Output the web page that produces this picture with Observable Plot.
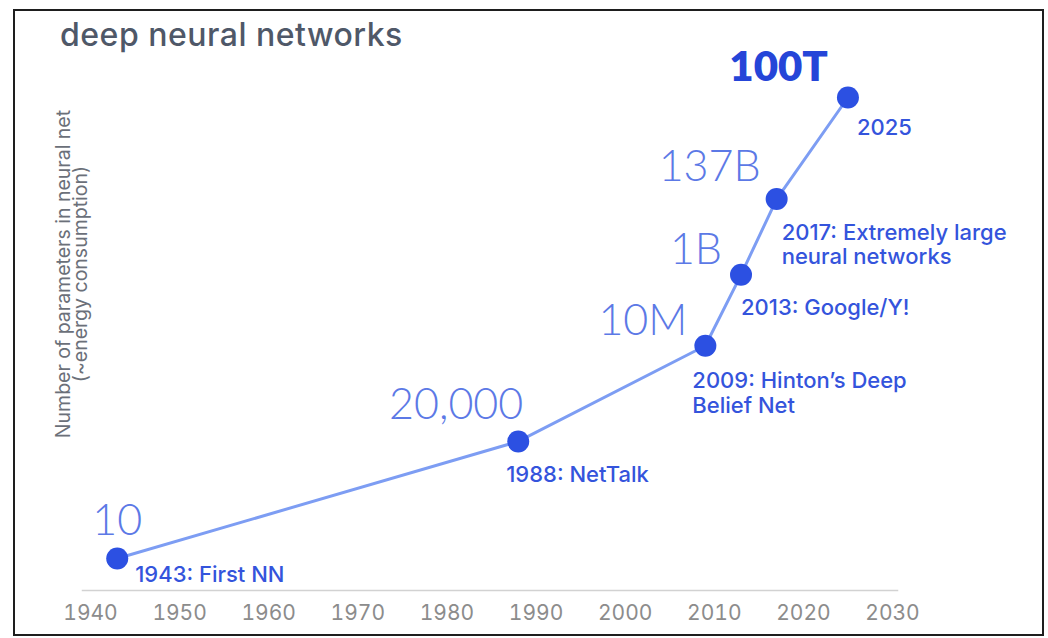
<!DOCTYPE html>
<html>
<head>
<meta charset="utf-8">
<script src="https://cdn.jsdelivr.net/npm/d3@7"></script>
<script src="https://cdn.jsdelivr.net/npm/@observablehq/plot@0.6"></script>
<style>
  html, body { margin: 0; padding: 0; background: #fff; }
  #wrap { position: relative; width: 1048px; height: 638px; overflow: hidden; }
  #border { position: absolute; left: 13px; top: 9px; width: 1027px; height: 623px; border: 2px solid #1e1e1e; pointer-events: none; }
  #title { position: absolute; left: 60px; top: 15px; font-family: Inter, sans-serif; font-size: 32px; font-weight: 500; letter-spacing: 0.5px; color: #4f5868; line-height: 40px; white-space: nowrap; }
  #ylab { position: absolute; left: 72px; top: 274px; transform: translate(-50%, -50%) rotate(-90deg); font-family: Inter, sans-serif; font-size: 19.5px; color: #6b7079; text-align: center; line-height: 17px; white-space: nowrap; }
  #chart { position: absolute; left: 0; top: 0; }
</style>
</head>
<body>
<div id="wrap">
  <div id="chart"></div>
  <div id="title">deep neural networks</div>
  <div id="ylab">Number of parameters in neural net<br>(~energy consumption)</div>
  <div id="border"></div>
</div>
<script>
// ---- data ----
const years = [1943, 1988, 2009, 2013, 2017, 2025];
const params = [10, 20000, 1e7, 1e9, 1.37e11, 1e14];
const valueLabels = ["10", "20,000", "10M", "1B", "137B", "100T"];
const events = [
  "1943: First NN",
  "1988: NetTalk",
  "2009: Hinton’s Deep\nBelief Net",
  "2013: Google/Y!",
  "2017: Extremely large\nneural networks",
  "2025"
];
const tickYears = [1940, 1950, 1960, 1970, 1980, 1990, 2000, 2010, 2020, 2030];

const data = years.map((y, i) => ({year: y, value: params[i], label: valueLabels[i], event: events[i]}));

// ---- label placement (styling) ----
const valuePlace = [
  {anchor: "middle", dx: 0, dy: -37, bold: false},
  {anchor: "end", dx: 5, dy: -36, bold: false},
  {anchor: "end", dx: -18, dy: -24, bold: false},
  {anchor: "end", dx: -19, dy: -25, bold: false},
  {anchor: "end", dx: -16, dy: -32, bold: false},
  {anchor: "end", dx: -20, dy: -30, bold: true}
];
const eventPlace = [
  {dx: 18, dy: 6, lh: 1.1},
  {dx: -12, dy: 23, lh: 1.1},
  {dx: -13, dy: 25, lh: 1.12},
  {dx: 0, dy: 23, lh: 1.1},
  {dx: 5, dy: 24, lh: 1.08},
  {dx: 9, dy: 20, lh: 1.1}
];

const valueMarks = data.map((d, i) => Plot.text([d], {
  x: "year", y: "value", text: "label",
  textAnchor: valuePlace[i].anchor, lineAnchor: "middle",
  dx: valuePlace[i].dx, dy: valuePlace[i].dy,
  fontSize: valuePlace[i].bold ? 42 : 43,
  fontFamily: "Lato, sans-serif",
  fontWeight: valuePlace[i].bold ? 800 : 300,
  fill: valuePlace[i].bold ? "#2545d8" : "#5c79e6"
}));

const eventMarks = data.map((d, i) => Plot.text([d], {
  x: "year", y: "value", text: "event",
  textAnchor: "start", lineAnchor: "top",
  dx: eventPlace[i].dx, dy: eventPlace[i].dy,
  lineHeight: eventPlace[i].lh,
  fontSize: 22,
  fontFamily: "Inter, sans-serif",
  fontWeight: 500,
  fill: "#3454dc"
}));

const chart = Plot.plot({
  width: 1048,
  height: 638,
  marginLeft: 82,
  marginRight: 151,
  marginTop: 20,
  marginBottom: 48,
  style: {background: "transparent", fontFamily: "Inter, sans-serif"},
  x: {domain: [1940, 2030], range: [90, 892]},
  y: {type: "log", domain: [10, 1e14], range: [558, 97], axis: null},
  marks: [
    Plot.frame({anchor: "bottom", stroke: "#d2d2d2", strokeWidth: 1.5}),
    Plot.axisX(tickYears, {tickSize: 0, tickPadding: 15, tickFormat: d3.format("d"), fontSize: 21, color: "#8c8c8c", label: null}),
    Plot.line(data, {x: "year", y: "value", stroke: "#7d9df3", strokeWidth: 3}),
    Plot.dot(data, {x: "year", y: "value", r: 11, fill: "#2c50e2", stroke: "none"}),
    ...valueMarks,
    ...eventMarks
  ]
});
document.getElementById("chart").appendChild(chart);
</script>
</body>
</html>
